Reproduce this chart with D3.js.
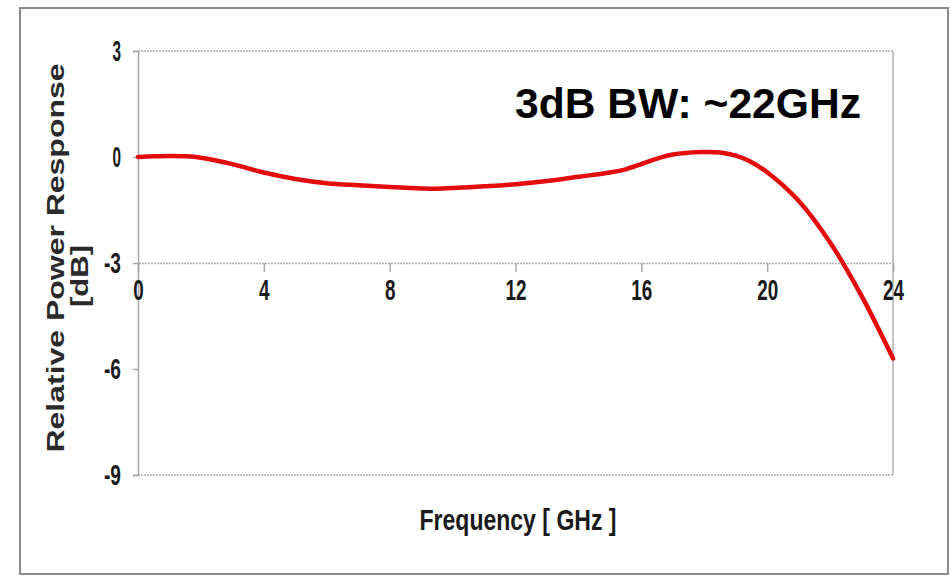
<!DOCTYPE html>
<html>
<head>
<meta charset="utf-8">
<script src="https://cdn.jsdelivr.net/npm/d3@7"></script>
<style>
  html, body { margin: 0; padding: 0; background: #fff; }
  svg { display: block; }
</style>
</head>
<body>
<script>
// frequency response
const freqGHz = [0, 0.5, 1, 1.5, 2, 3, 4, 5, 6, 7, 8, 9, 9.5, 10, 11, 12, 13, 14, 15, 15.5, 16, 16.6, 17, 17.9, 18.5, 19, 19.4, 20, 21, 22, 23, 24];
const responseDb = [0, 0.02, 0.03, 0.02, -0.02, -0.2, -0.44, -0.62, -0.74, -0.8, -0.85, -0.89, -0.9, -0.88, -0.83, -0.77, -0.68, -0.56, -0.44, -0.35, -0.2, -0.02, 0.07, 0.14, 0.13, 0.04, -0.1, -0.43, -1.24, -2.42, -3.93, -5.7];
const xTicks = [0, 4, 8, 12, 16, 20, 24];
const yTicks = [3, 0, -3, -6, -9];

var width = 951;
var height = 576;
var narrow = "'Liberation Sans Narrow', 'Arial Narrow', 'Liberation Sans', sans-serif";

var x = d3.scaleLinear().domain([0, 24]).range([138, 893]);
var y = d3.scaleLinear().domain([-9, 3]).range([475, 51]);

var svg = d3.select("body").append("svg")
    .attr("width", width)
    .attr("height", height);

// outer frame
svg.append("rect")
    .attr("x", 20).attr("y", 8)
    .attr("width", 928).attr("height", 566)
    .attr("fill", "none")
    .attr("stroke", "#8a8a8a")
    .attr("stroke-width", 2);

// plot box
svg.append("line")
    .attr("x1", x(0)).attr("x2", x(24))
    .attr("y1", y(3)).attr("y2", y(3))
    .attr("stroke", "#b0b0b0").attr("stroke-width", 1.5)
    .attr("stroke-dasharray", "2,1");
svg.append("line")
    .attr("x1", x(24)).attr("x2", x(24))
    .attr("y1", y(3)).attr("y2", y(-9))
    .attr("stroke", "#b0b0b0").attr("stroke-width", 1.5);
svg.append("line")
    .attr("x1", x(0)).attr("x2", x(24))
    .attr("y1", y(-9)).attr("y2", y(-9))
    .attr("stroke", "#b0b0b0").attr("stroke-width", 1.5)
    .attr("stroke-dasharray", "2,1");

// y axis
var yAxis = svg.append("g")
    .attr("transform", `translate(${x(0)},0)`)
    .call(d3.axisLeft(y).tickValues(yTicks).tickSize(5).tickPadding(12).tickFormat(d => String(d)));
yAxis.select(".domain").attr("stroke", "#a8a8a8").attr("stroke-width", 1.5);
yAxis.selectAll(".tick line").attr("stroke", "#a8a8a8").attr("stroke-width", 1.5);
yAxis.selectAll(".tick text")
    .attr("font-family", narrow)
    .attr("font-weight", "bold")
    .attr("font-size", 30)
    .attr("fill", "#1a1a1a")
    .attr("textLength", d => String(d).length * 8.5)
    .attr("lengthAdjust", "spacingAndGlyphs");

// x axis crossing at -3
var xAxis = svg.append("g")
    .attr("transform", `translate(0,${y(-3)})`)
    .call(d3.axisBottom(x).tickValues(xTicks).tickSize(9).tickPadding(7).tickFormat(d => String(d)));
xAxis.select(".domain").attr("stroke", "#b0b0b0").attr("stroke-width", 1.5)
    .attr("stroke-dasharray", "2,1");
xAxis.selectAll(".tick line").attr("stroke", "#a8a8a8").attr("stroke-width", 1.5);
xAxis.selectAll(".tick text")
    .attr("font-family", narrow)
    .attr("font-weight", "bold")
    .attr("font-size", 30)
    .attr("fill", "#1a1a1a")
    .attr("textLength", d => String(d).length * 10.5)
    .attr("lengthAdjust", "spacingAndGlyphs");

// response curve
var line = d3.line()
    .x((d, i) => x(freqGHz[i]))
    .y(d => y(d))
    .curve(d3.curveCatmullRom.alpha(0.5));

svg.append("path")
    .datum(responseDb)
    .attr("d", line)
    .attr("fill", "none")
    .attr("stroke", "#e30b0b")
    .attr("stroke-width", 4.5)
    .attr("stroke-linecap", "round");

// axis titles
svg.append("text")
    .attr("transform", "translate(64,258) rotate(-90)")
    .attr("text-anchor", "middle")
    .attr("font-family", "'Liberation Sans', Arial, sans-serif")
    .attr("font-weight", "bold")
    .attr("font-size", 23)
    .attr("fill", "#2a2a2a")
    .attr("textLength", 389)
    .attr("lengthAdjust", "spacingAndGlyphs")
    .text("Relative Power Response");

svg.append("text")
    .attr("transform", "translate(88,276) rotate(-90)")
    .attr("text-anchor", "middle")
    .attr("font-family", "'Liberation Sans', Arial, sans-serif")
    .attr("font-weight", "bold")
    .attr("font-size", 23)
    .attr("fill", "#2a2a2a")
    .attr("textLength", 62)
    .attr("lengthAdjust", "spacingAndGlyphs")
    .text("[dB]");

svg.append("text")
    .attr("x", 518)
    .attr("y", 530)
    .attr("text-anchor", "middle")
    .attr("font-family", narrow)
    .attr("font-weight", "bold")
    .attr("font-size", 30)
    .attr("fill", "#1a1a1a")
    .attr("textLength", 197)
    .attr("lengthAdjust", "spacingAndGlyphs")
    .text("Frequency [ GHz ]");

// annotation
svg.append("text")
    .attr("x", 515)
    .attr("y", 118)
    .attr("font-family", "'Liberation Sans', Arial, sans-serif")
    .attr("font-weight", "bold")
    .attr("font-size", 42)
    .attr("fill", "#000")
    .attr("textLength", 346)
    .attr("lengthAdjust", "spacingAndGlyphs")
    .text("3dB BW: ~22GHz");
</script>
</body>
</html>
